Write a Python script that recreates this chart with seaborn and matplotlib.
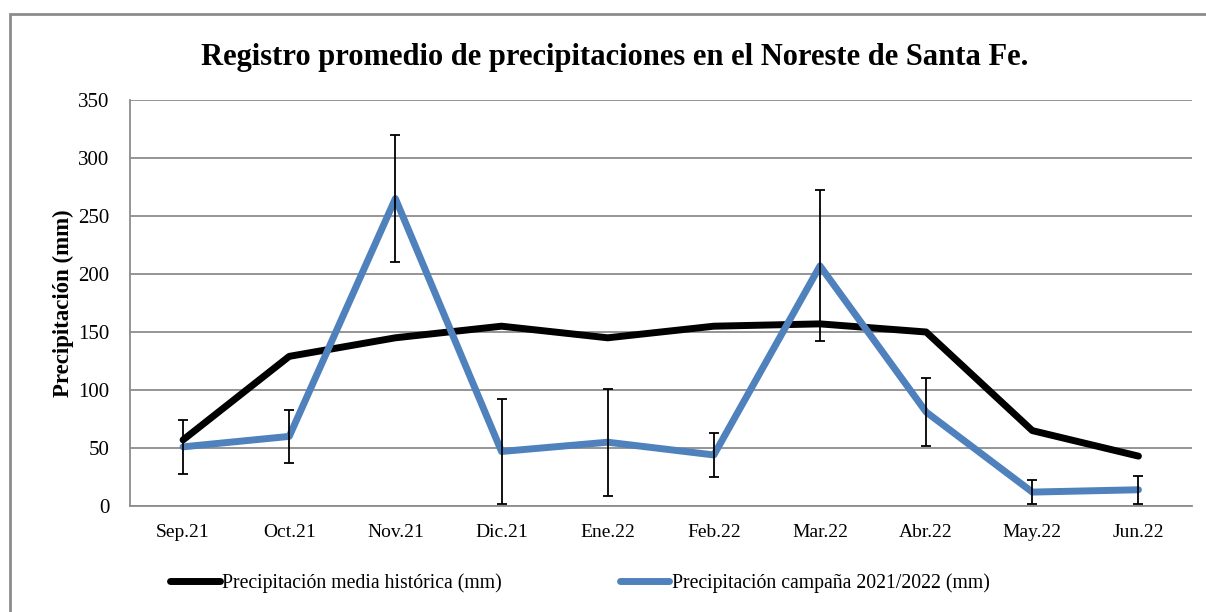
import matplotlib
matplotlib.use('Agg')
import matplotlib.pyplot as plt
import seaborn as sns
import pandas as pd
from matplotlib.patches import Rectangle

# datos
meses = ['Sep.21', 'Oct.21', 'Nov.21', 'Dic.21', 'Ene.22', 'Feb.22', 'Mar.22', 'Abr.22', 'May.22', 'Jun.22']
media_historica = [57, 129, 145, 155, 145, 155, 157, 150, 65, 43]
campana = [51, 60, 265, 47, 55, 44, 207, 81, 12, 14]
campana_err = [23, 23, 55, 45, 46, 19, 65, 29, 10, 12]

serie_hist = 'Precipitación media histórica (mm)'
serie_camp = 'Precipitación campaña 2021/2022 (mm)'

df = pd.DataFrame({
    'x': list(range(len(meses))) * 2,
    'valor': media_historica + campana,
    'serie': [serie_hist] * len(meses) + [serie_camp] * len(meses),
})

sns.set_style('white')
plt.rcParams['font.family'] = ['Liberation Serif', 'DejaVu Serif']
plt.rcParams['text.color'] = 'black'
plt.rcParams['xtick.labelcolor'] = 'black'
plt.rcParams['ytick.labelcolor'] = 'black'
plt.rcParams['axes.labelcolor'] = 'black'

fig = plt.figure(figsize=(12.06, 6.12), dpi=100)
ax = fig.add_axes([0.1078, 0.1732, 0.8802, 0.6634])

# marco exterior del gráfico
fig.patches.append(Rectangle((10 / 1206, -0.1), 1.2, 1 - 14 / 612 + 0.1, transform=fig.transFigure,
                             fill=False, edgecolor='#8c8c8c', linewidth=2))

ax.errorbar(range(len(meses)), campana, yerr=campana_err, fmt='none', ecolor='black',
            elinewidth=1.3, capsize=3.5, capthick=1.3, zorder=4)
sns.lineplot(data=df, x='x', y='valor', hue='serie', palette=['black', '#4f81bd'],
             linewidth=5, ax=ax, legend=True, zorder=3)

ax.set_xlim(-0.5, 9.5)
ax.set_ylim(0, 350)
ax.set_yticks(range(0, 351, 50))
ax.set_xticks(range(len(meses)))
ax.set_xticklabels(meses)
ax.set_xticks([i - 0.5 for i in range(len(meses) + 1)], minor=True)
ax.tick_params(axis='x', which='major', length=0, pad=13, labelsize=14)
ax.tick_params(axis='x', which='minor', length=6, width=1.3, color='#8c8c8c', direction='out')
ax.tick_params(axis='y', length=6, width=1.3, color='#8c8c8c', direction='out', labelsize=15, pad=9)
ax.yaxis.grid(True, color='#8c8c8c', linewidth=1.3)
ax.xaxis.grid(False)
for side in ['top', 'right']:
    ax.spines[side].set_visible(False)
for side in ['left', 'bottom']:
    ax.spines[side].set_color('#8c8c8c')
    ax.spines[side].set_linewidth(1.3)

ax.set_xlabel('')
ax.set_ylabel('Precipitación (mm)', fontsize=16.5, fontweight='bold', labelpad=3)
fig.suptitle('Registro promedio de precipitaciones en el Noreste de Santa Fe.',
             fontsize=22, fontweight='bold', x=0.51, y=0.93)

handles, labels = ax.get_legend_handles_labels()
ax.legend(handles, labels, loc='center', bbox_to_anchor=(0.481, 0.047), bbox_transform=fig.transFigure,
          ncol=2, frameon=False, fontsize=14.2, handlelength=2.5, handletextpad=0.12, columnspacing=6.0)

fig.savefig('out.png', dpi=100)
